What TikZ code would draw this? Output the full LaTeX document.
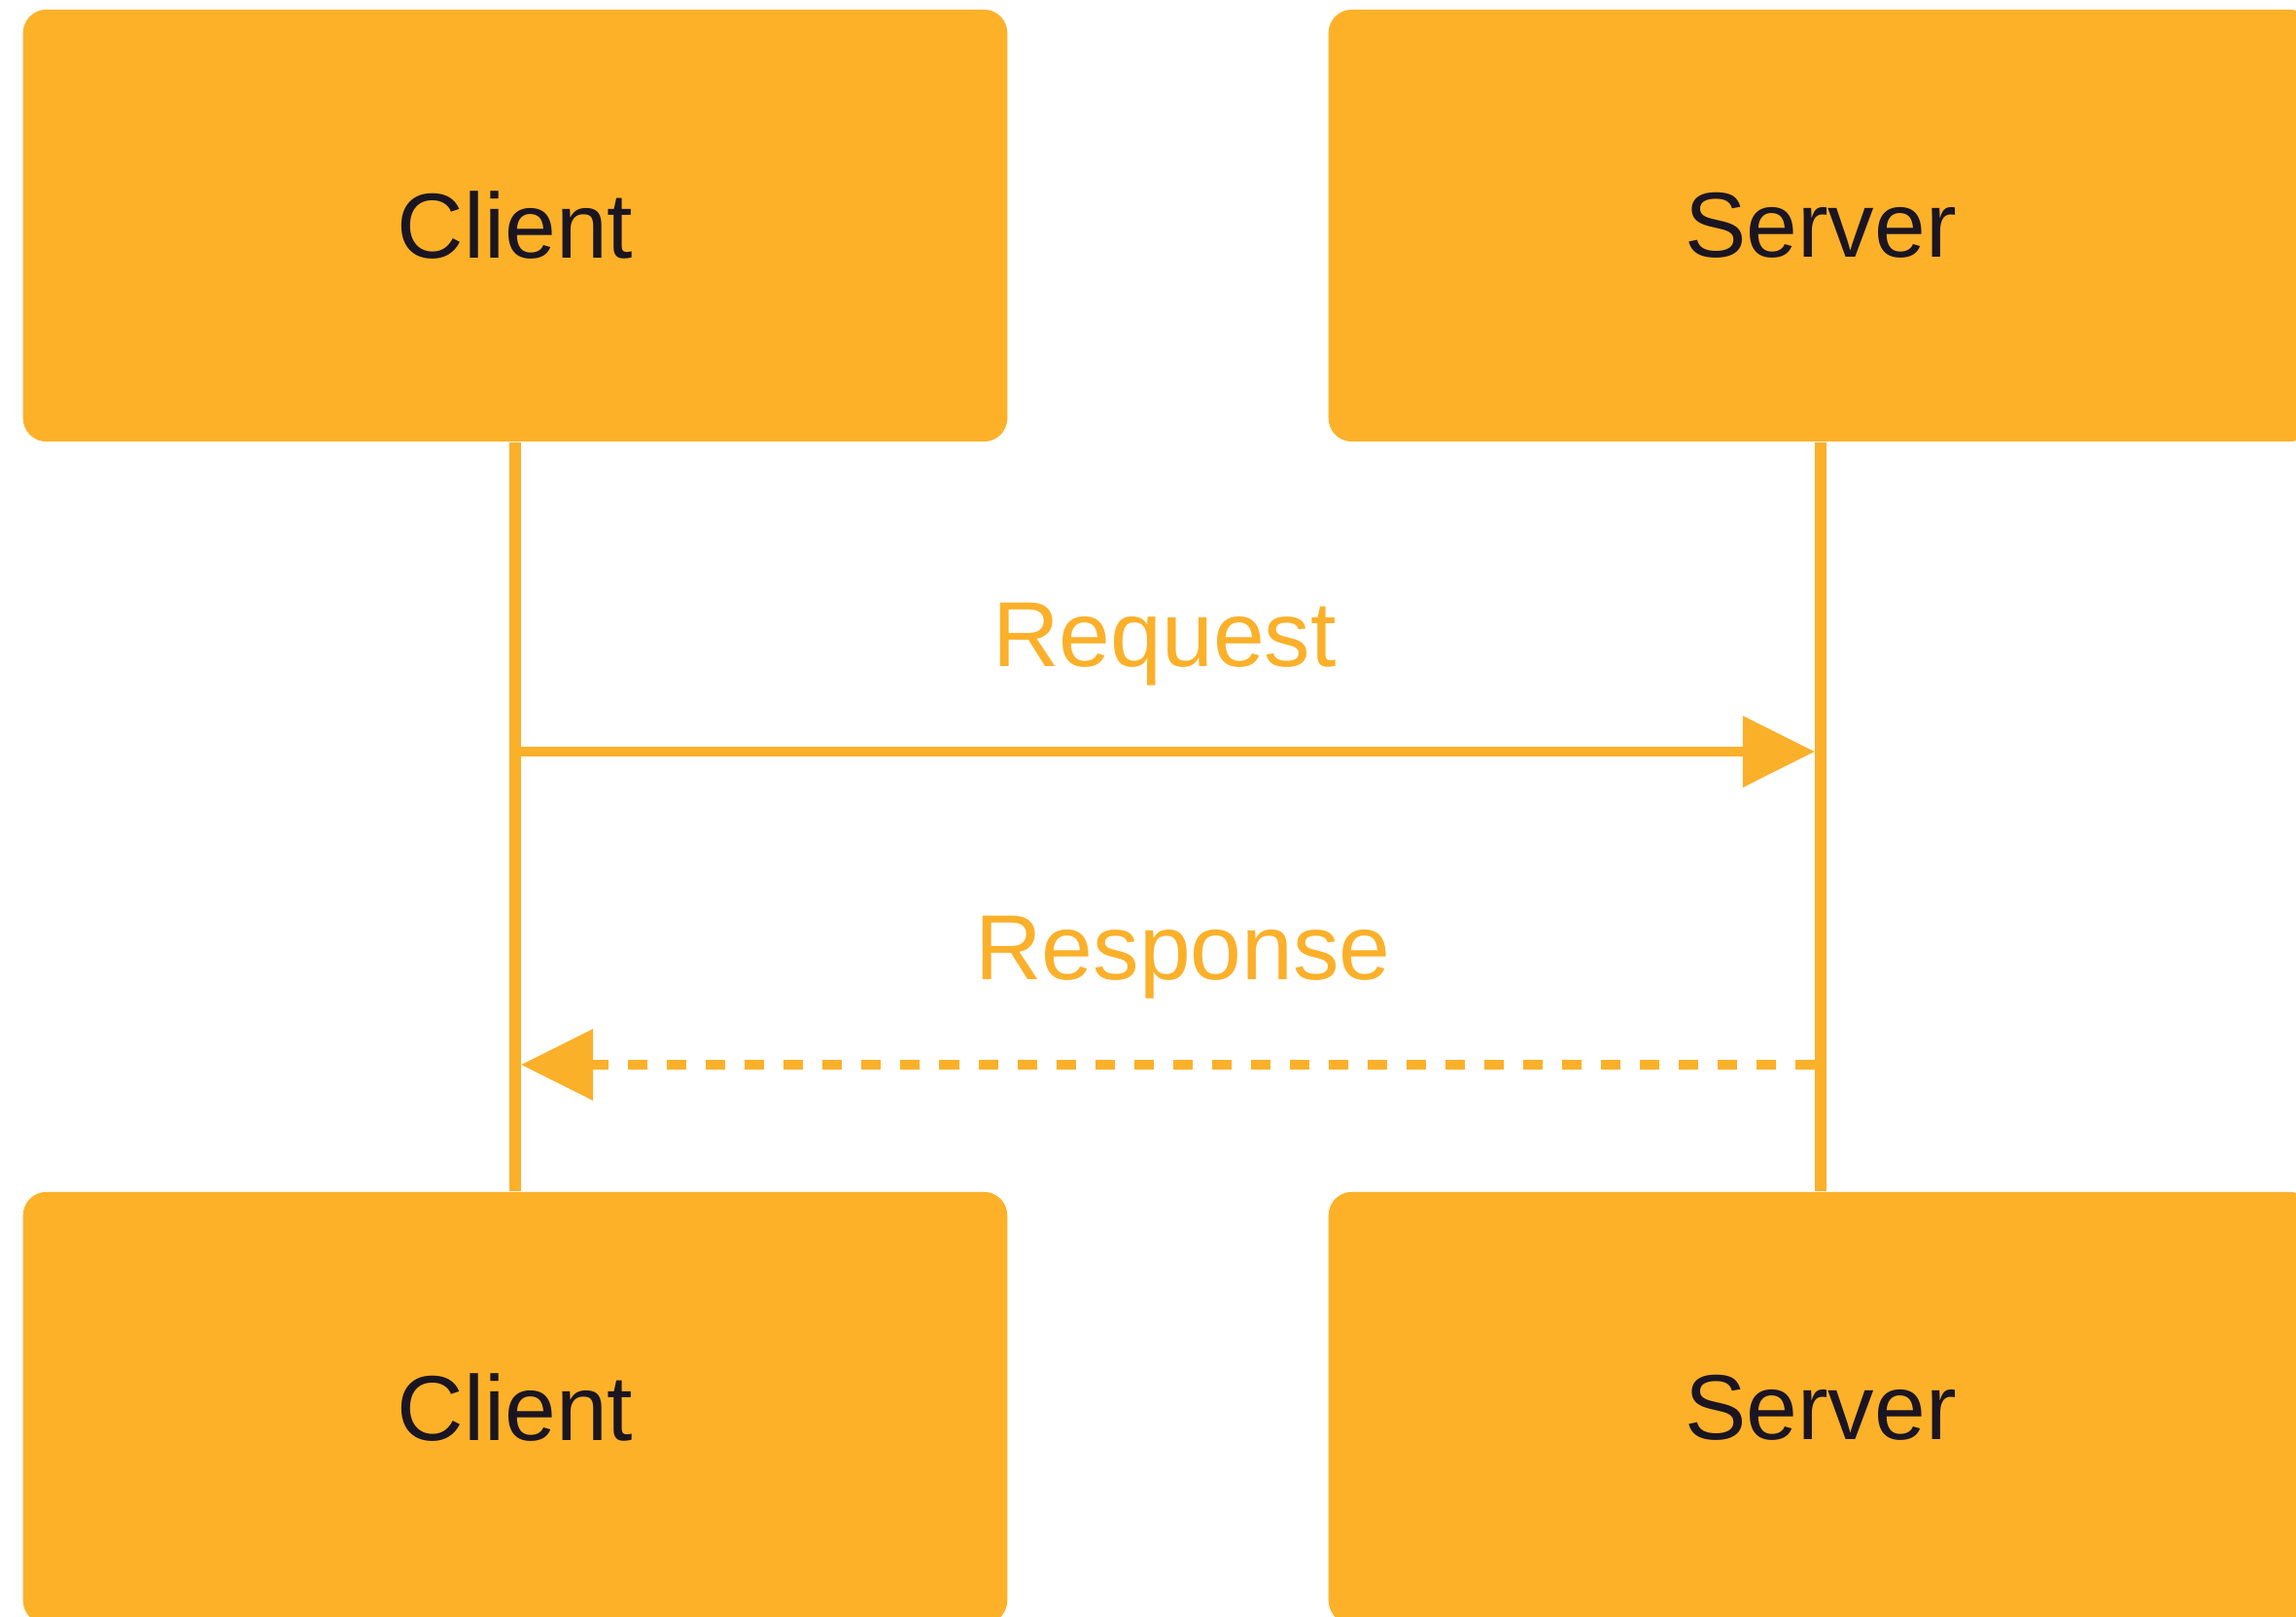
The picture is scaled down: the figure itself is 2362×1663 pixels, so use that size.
\documentclass[tikz,border=0pt]{standalone}
\usepackage{fontspec}
\setmainfont{Liberation Sans}
\usetikzlibrary{arrows.meta}

\definecolor{boxfill}{HTML}{FDB128}
\definecolor{wire}{HTML}{FBB02A}
\definecolor{ink}{HTML}{1B1522}

\tikzset{
  party/.style={rectangle, rounded corners=0.24cm, fill=boxfill, draw=none,
    minimum width=10.12cm, minimum height=4.44cm, inner sep=0pt,
    text=ink, font=\fontsize{27}{32}\selectfont},
  lifeline/.style={draw=wire, line width=0.12cm},
  message/.style={draw=wire, line width=0.1cm,
    -{Triangle[length=0.74cm, width=0.71cm]}, shorten >=0.06cm},
  reply/.style={message, dash pattern=on 0.2cm off 0.2cm},
  msglabel/.style={text=wire, anchor=base, inner sep=0pt,
    font=\fontsize{27}{32}\selectfont}
}

\begin{document}
\begin{tikzpicture}[x=0.01cm, y=-0.01cm]
  \useasboundingbox (0,0) rectangle (2362,1663);
  \clip (0,0) rectangle (2362,1663);
  \fill[white] (0,0) rectangle (2362,1663);

  % participants, top and bottom
  \node[party] (clientTop) at (530,232) {Client};
  \node[party] (serverTop) at (1873,232) {Server};
  \node[party] (clientBot) at (530,1448) {Client};
  \node[party] (serverBot) at (1873,1448) {Server};

  % lifelines
  \draw[lifeline] (clientTop.south) -- (clientBot.north);
  \draw[lifeline] (serverTop.south) -- (serverBot.north);

  % message end points on the lifelines
  \coordinate (reqFrom) at (clientTop.south |- 0,773);
  \coordinate (reqTo)   at (serverTop.south |- 0,773);
  \coordinate (resFrom) at (serverTop.south |- 0,1095);
  \coordinate (resTo)   at (clientTop.south |- 0,1095);

  % request and response
  \draw[message] (reqFrom) -- (reqTo);
  \draw[reply] ([xshift=-0.06cm]resFrom) -- (resTo);

  \node[msglabel] (reqLabel) at (1198,685) {Request};
  \node[msglabel] (resLabel) at (1217,1007) {Response};
\end{tikzpicture}
\end{document}
